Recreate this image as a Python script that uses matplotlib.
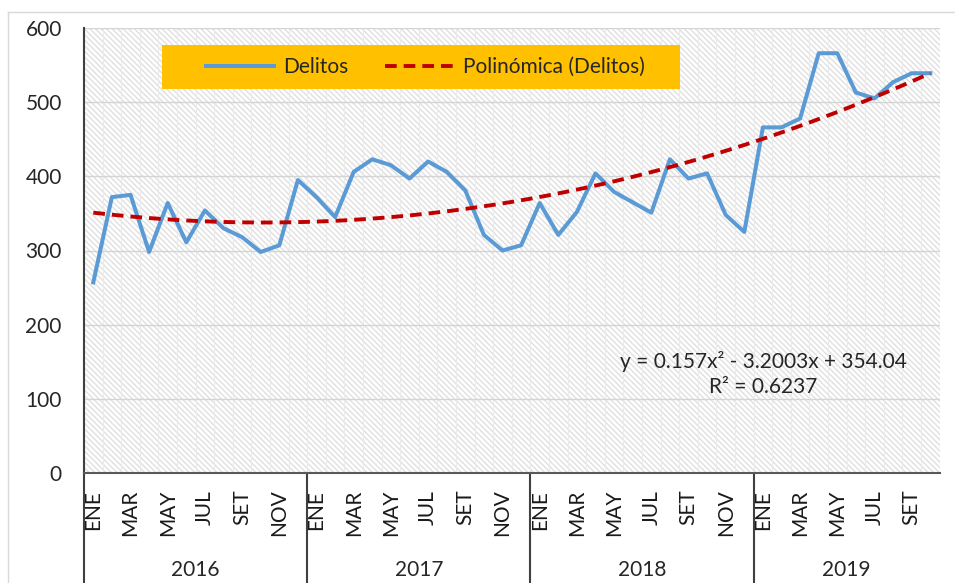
import numpy as np
import matplotlib.pyplot as plt
from matplotlib.lines import Line2D
from matplotlib.patches import Rectangle

plt.rcParams['font.family'] = ['Lato', 'DejaVu Sans']
plt.rcParams['hatch.linewidth'] = 1.0

# Datos mensuales de delitos (ENE 2016 - OCT 2019)
meses = ['ENE', 'FEB', 'MAR', 'ABR', 'MAY', 'JUN', 'JUL', 'AGO', 'SET', 'OCT', 'NOV', 'DIC']
anios = ['2016', '2017', '2018', '2019']
meses_por_anio = [12, 12, 12, 10]
delitos = [257, 372, 375, 298, 364, 311, 354, 330, 318, 298, 307, 395,
           372, 345, 406, 423, 415, 397, 420, 406, 381, 321, 300, 307,
           364, 321, 352, 404, 379, 365, 351, 423, 397, 404, 348, 325,
           466, 466, 478, 566, 566, 513, 505, 527, 539, 539]
# coeficientes de la linea de tendencia polinomica (Excel)
coef = [0.157, -3.2003, 354.04]

etiquetas = []
for n in meses_por_anio:
    etiquetas += meses[:n]
x = np.arange(len(delitos))

fig = plt.figure(figsize=(9.55, 5.83), dpi=100)
ax = fig.add_axes([84 / 955, 110 / 583, 855.6 / 955, 445 / 583])

# fondo con trama
ax.patch.set_facecolor('white')
ax.patch.set_hatch('\\\\\\\\\\\\')
ax.patch.set_edgecolor('#e0e0e0')
ax.patch.set_linewidth(0)

ax.set_axisbelow(True)
ax.grid(axis='y', color='#d4d4d4', linewidth=1)
for xv in np.arange(-0.5, len(delitos), 1):
    ax.axvline(xv, color='#ebebeb', linewidth=0.8, zorder=0.5)

ax.plot(x, delitos, color='#5B9BD5', linewidth=2.9, label='Delitos', zorder=3)
xt = np.linspace(0, len(delitos) - 1, 200)
yt = np.polyval(coef, xt + 1)
ax.plot(xt, yt, color='#C00000', linewidth=2.8, linestyle=(0, (3, 1.8)),
        label='Polinómica (Delitos)', zorder=4)

ax.set_xlim(-0.5, len(delitos) - 0.5)
ax.set_ylim(0, 600)
ax.set_yticks(range(0, 601, 100))
ax.tick_params(axis='y', length=0, pad=16, labelsize=15, labelcolor='#262626')

ax.set_xticks(x[::2])
ax.set_xticklabels(etiquetas[::2], rotation=90, fontsize=15, color='#1a1a1a')
ax.tick_params(axis='x', length=0, pad=12)

for s in ['top', 'right']:
    ax.spines[s].set_visible(False)
ax.spines['left'].set_color('#404040')
ax.spines['left'].set_linewidth(1.5)
ax.spines['bottom'].set_color('#595959')
ax.spines['bottom'].set_linewidth(1.5)

# divisiones por año
trans = ax.get_xaxis_transform()
inicio = 0
for anio, n in zip(anios, meses_por_anio):
    ax.plot([inicio - 0.5, inicio - 0.5], [0, -0.26], color='#404040',
            linewidth=1.5, transform=trans, clip_on=False)
    ax.text(inicio + n / 2 - 0.5, -0.218, anio, transform=trans,
            ha='center', va='center', fontsize=15, color='#262626')
    inicio += n

# leyenda sobre caja naranja
ax.add_patch(Rectangle((78 / 855.6, (473 - 89) / 445), 518 / 855.6, 44 / 445,
                       transform=ax.transAxes, facecolor='#FFC000',
                       edgecolor='none', zorder=5))
leg = ax.legend(loc='center', bbox_to_anchor=(0.3986, 0.912), ncol=2,
                frameon=False, fontsize=15, handlelength=3.3,
                handletextpad=0.4, columnspacing=1.8, borderaxespad=0)
leg.set_zorder(6)
for t in leg.get_texts():
    t.set_color('#262626')

ax.text(0.794, 0.2225, 'y = 0.157x² - 3.2003x + 354.04\nR² = 0.6237',
        transform=ax.transAxes, ha='center', va='center', fontsize=15,
        color='#262626', linespacing=1.3)

# borde del grafico
fig.add_artist(Line2D([8 / 955, 1], [1 - 12 / 583, 1 - 12 / 583], color='#d9d9d9', linewidth=1))
fig.add_artist(Line2D([8 / 955, 8 / 955], [0, 1 - 12 / 583], color='#d9d9d9', linewidth=1))

fig.savefig('out.png', dpi=100)
